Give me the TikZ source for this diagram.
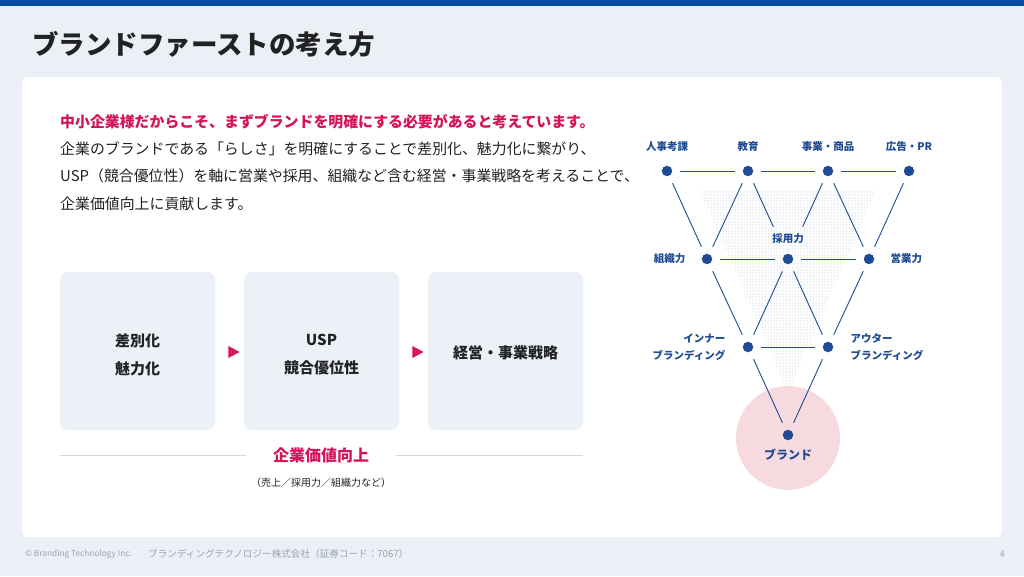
\documentclass[tikz,border=0pt]{standalone}
\usepackage{fontspec}
\setmainfont{Noto Sans CJK JP}
\usepackage{tikz}
\usetikzlibrary{positioning, patterns, shapes.geometric}

\definecolor{pagebg}{HTML}{EAF0F6}
\definecolor{topbar}{HTML}{0A4EA2}
\definecolor{boxbg}{HTML}{EBF1F7}
\definecolor{crimson}{HTML}{D3145A}
\definecolor{navy}{HTML}{1E4B93}
\definecolor{pinkc}{HTML}{F7DAE0}
\definecolor{rulegray}{HTML}{D3D8DE}
\definecolor{gridgray}{HTML}{A3B3C9}
\definecolor{foot}{HTML}{9AA3AD}
\definecolor{ink}{HTML}{222222}

\begin{document}
\begin{tikzpicture}[x=1pt, y=-1pt, every node/.style={inner sep=0pt},
    dot/.style={circle, fill=navy, minimum size=10.5pt, inner sep=0pt},
    link/.style={navy, line width=0.9pt, shorten >=8pt, shorten <=8pt},
    lbl/.style={text=navy, font=\bfseries\fontsize{10.5}{17}\selectfont},
    stepbox/.style={rounded corners=8pt, fill=boxbg, minimum width=155pt, minimum height=158pt},
    steptext/.style={align=center, text=ink, font=\bfseries\fontsize{15}{28}\selectfont},
    tri/.style={isosceles triangle, isosceles triangle stretches, fill=crimson,
        minimum width=12pt, minimum height=11pt}]
    \useasboundingbox (0,0) rectangle (1024,576);
    % page
    \fill[pagebg] (0,0) rectangle (1024,576);
    \fill[topbar] (0,0) rectangle (1024,6);
    \fill[white, rounded corners=6pt] (22,77) rectangle (1002,537);
    \node[anchor=west, text=ink, font=\bfseries\fontsize{26.5}{26.5}\selectfont] (title) at (32,44) {ブランドファーストの考え方};

    % intro text
    \node[anchor=west, text=crimson, font=\bfseries\fontsize{14.9}{14.9}\selectfont] (lead) at (60,122)
        {中小企業様だからこそ、まずブランドを明確にする必要があると考えています。};
    \node[anchor=west, align=left, text=ink, font=\fontsize{14.9}{27.5}\selectfont] (body) at (60,176)
        {企業のブランドである「らしさ」を明確にすることで差別化、魅力化に繋がり、\\
         USP（競合優位性）を軸に営業や採用、組織など含む経営・事業戦略を考えることで、\\
         企業価値向上に貢献します。};

    % three steps
    \node[stepbox] (diff) at (137.5,351) {};
    \node[stepbox] (usp) at (321.5,351) {};
    \node[stepbox] (strat) at (505.5,351) {};
    \node[steptext] (difftext) at ([yshift=-4pt]diff.center) {差別化\\魅力化};
    \node[steptext] (usptext) at ([yshift=-4pt]usp.center) {USP\\競合優位性};
    \node[steptext] (strattext) at ([yshift=-2pt]strat.center) {経営・事業戦略};
    \node[tri] (arr1) at (232,352) {};
    \node[tri] (arr2) at (416,352) {};

    \node[text=crimson, font=\bfseries\fontsize{16}{16}\selectfont] (value) at (321,455) {企業価値向上};
    \coordinate (ruleL) at (60,455);
    \coordinate (ruleR) at (583,455);
    \draw[rulegray, line width=0.8pt, shorten >=27pt] (ruleL) -- (value.west);
    \draw[rulegray, line width=0.8pt, shorten >=27pt] (ruleR) -- (value.east);
    \node[text=ink, font=\fontsize{10}{10}\selectfont] (valuesub) at (321,483) {（売上／採用力／組織力など）};

    % brand funnel
    \fill[pattern=dots, pattern color=gridgray] (700,190) -- (876,190) -- (788,392) -- cycle;
    \node[circle, fill=pinkc, minimum size=104pt] (brandbg) at (788,438) {};
    \foreach \n/\x/\y in {t1/667/171, t2/748/171, t3/828/171, t4/909/171,
                          m1/707/259, m2/788/259, m3/869/259,
                          r1/748/347, r2/828/347, b/788/435}
        \node[dot] (\n) at (\x,\y) {};
    \foreach \a/\c in {t1/t2, t2/t3, t3/t4, m1/m2, m2/m3, r1/r2,
                       t1/m1, t2/m1, t3/m3, t4/m3,
                       m1/r1, m2/r1, m2/r2, m3/r2, r1/b, r2/b}
        \draw[link] (\a) -- (\c);
    \draw[link, shorten >=30pt] (t2) -- (m2);
    \draw[link, shorten >=30pt] (t3) -- (m2);

    \node[lbl, above=14pt of t1] (t1lab) {人事考課};
    \node[lbl, above=14pt of t2] (t2lab) {教育};
    \node[lbl, above=14pt of t3] (t3lab) {事業・商品};
    \node[lbl, above=14pt of t4] (t4lab) {広告・PR};
    \node[lbl, above=10pt of m2] (m2lab) {採用力};
    \node[lbl, left=16pt of m1] (m1lab) {組織力};
    \node[lbl, right=16pt of m3] (m3lab) {営業力};
    \node[lbl, left=17pt of r1, align=right] (r1lab) {インナー\\ブランディング};
    \node[lbl, right=17pt of r2, align=left] (r2lab) {アウター\\ブランディング};
    \node[lbl, below=8pt of b, font=\bfseries\fontsize{12}{12}\selectfont] (blab) {ブランド};

    % footer
    \node[anchor=west, text=foot, font=\fontsize{8.3}{9}\selectfont] (copy) at (25,554)
        {© Branding Technology Inc.};
    \node[anchor=west, text=foot, font=\fontsize{9.6}{9.6}\selectfont] (company) at (148,554)
        {ブランディングテクノロジー株式会社（証券コード：7067）};
    \node[anchor=east, text=foot, font=\fontsize{9}{9}\selectfont] (pageno) at (1005,554) {4};
\end{tikzpicture}
\end{document}
